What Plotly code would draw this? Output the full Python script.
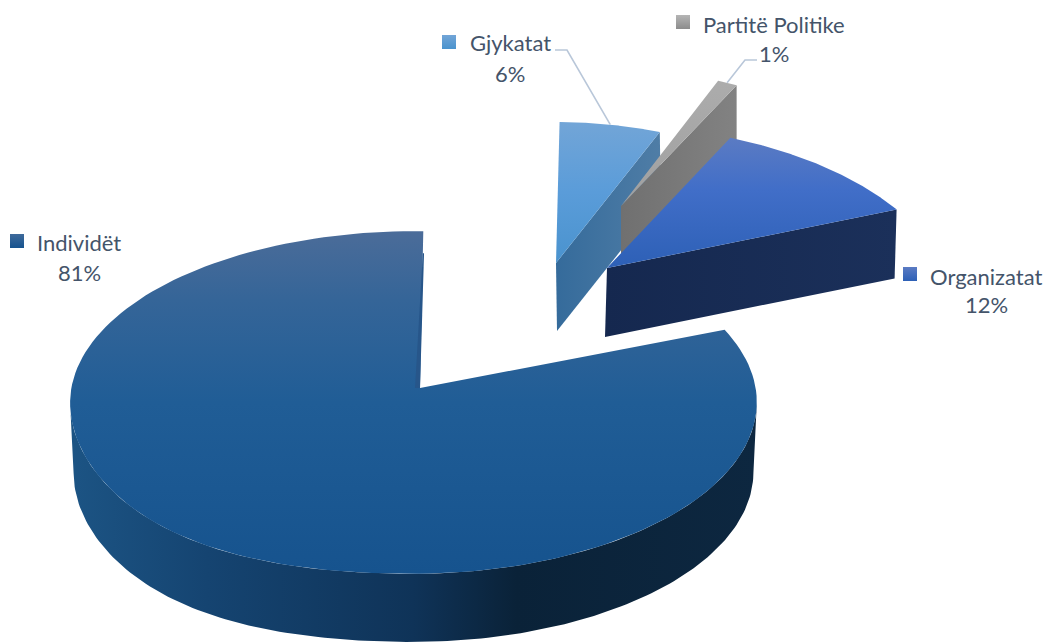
import numpy as np
import plotly.graph_objects as go

categories = ["Individët", "Gjykatat", "Partitë Politike", "Organizatat"]
values = [81.0, 5.9, 1.3, 11.8]
FIRST_ANGLE = 69.0

# projection of each exploded slice on the page
apex = [(420, 388), (556, 263), (621, 206), (607, 268)]
radius = [(342, 170), (279, 141), (259, 135), (338, 178)]
persp = [(0.0846, 0.019), (0, 0), (0, 0), (0.25, 0)]
depth = [70, 68, 60, 69]
drift = [0, 1, 0, -2]
sag = [28, 0, 0, 0]

top_scale = [
    [[0, "#4b6c99"], [0.2, "#356598"], [0.5, "#205d96"], [1, "#16538e"]],
    [[0, "#72a5d7"], [0.5, "#5a9cd9"], [1, "#4a93ce"]],
    [[0, "#acacac"], [1, "#a0a0a0"]],
    [[0, "#5b7bc3"], [0.4, "#416ec8"], [1, "#2d60b6"]],
]
side_scale = [
    [[0, "#1c5484"], [0.2, "#154471"], [0.5, "#0f3358"], [0.65, "#0a2238"], [1, "#0d2740"]],
    [[0, "#356b9b"], [1, "#4f7da6"]],
    [[0, "#707070"], [1, "#828282"]],
    [[0, "#15284f"], [1, "#1b305a"]],
]
key_colors = [("#3f6a9b", "#16538e"), ("#72a5d7", "#4a93ce"), ("#b5b5b5", "#8c8c8c"), ("#5b7bc3", "#2d60b6")]
key_pos = [(17, 241), (449, 42), (683, 22), (910, 274)]
name_pos = [(79, 242), (510, 42), (774, 24), (986, 276)]
pct_pos = [(79, 272), (510, 73), (774, 53), (986, 304)]
TEXT = "#44546a"
LEADER = "#b9c7d9"
FONT = "Lato"
SIZE = 22


def rim(i, deg):
    t = np.radians(np.asarray(deg, dtype=float))
    k, m = persp[i]
    s, c = np.sin(t), np.cos(t)
    w = 1 + k * c + m * s
    bulge = sag[i] * (np.clip(-s, 0, None) * np.clip(-c, 0, None)) ** 2
    return apex[i][0] + radius[i][0] * s / w, apex[i][1] - radius[i][1] * c / w + bulge


def lowered(i, x, y, shrink=1.0, dx=0.0):
    x = np.asarray(x, dtype=float)
    y = np.asarray(y, dtype=float)
    return apex[i][0] + shrink * (x - apex[i][0]) + dx, apex[i][1] + shrink * (y - apex[i][1]) + depth[i]


def poly(fig, x, y, scale, orient):
    x, y = list(x), list(y)
    x.append(x[0])
    y.append(y[0])
    lo, hi = (min(x), max(x)) if orient == "horizontal" else (min(y), max(y))
    fig.add_trace(go.Scatter(
        x=x, y=y, mode="lines", fill="toself", line=dict(width=0), hoverinfo="skip",
        fillgradient=dict(type=orient, colorscale=scale, start=lo, stop=hi),
    ))


spans = [v / sum(values) * 360 for v in values]
starts = FIRST_ANGLE + np.concatenate([[0], np.cumsum(spans)[:-1]])
ends = starts + np.array(spans)

fig = go.Figure()
for i in [1, 2, 3, 0]:
    a0, a1 = starts[i], ends[i]
    if i == 0:
        sweep = np.linspace(0, 360, 721)
        xs, _ = rim(i, sweep)
        arc = np.linspace(sweep[np.argmax(xs)], sweep[np.argmin(xs)], 161)
        xr, yr = rim(i, arc)
        xl, yl = lowered(i, xr, yr, shrink=0.99)
        poly(fig, np.r_[xr, xl[::-1]], np.r_[yr, yl[::-1]], side_scale[i], "horizontal")
    else:
        xe, ye = rim(i, a1)
        xl, yl = lowered(i, [apex[i][0], xe], [apex[i][1], ye], dx=drift[i])
        poly(fig, [apex[i][0], xe, xl[1], xl[0]], [apex[i][1], ye, yl[1], yl[0]], side_scale[i], "horizontal")
    arc = np.linspace(a0, a1, 161)
    xr, yr = rim(i, arc)
    poly(fig, np.r_[apex[i][0], xr], np.r_[apex[i][1], yr], top_scale[i], "vertical")
    if i == 0:
        xe, ye = rim(i, a1)
        ax, ay = apex[i]
        fig.add_trace(go.Scatter(
            x=[ax, ax - 5, ax + 0.86 * (xe - ax), ax + 0.86 * (xe - ax) + 1.2, ax],
            y=[ay, ay, ay + 0.86 * (ye - ay), ay + 0.86 * (ye - ay), ay],
            mode="lines", fill="toself", line=dict(width=0), fillcolor="#27568a", hoverinfo="skip",
        ))

# leader lines run from the label to the middle of the slice's rim
for i, (sx, elbow) in {1: (555, 567), 2: (757, 745)}.items():
    xm, ym = rim(i, (starts[i] + ends[i]) / 2)
    sy = 50 if i == 1 else 60
    fig.add_trace(go.Scatter(x=[sx, elbow, xm], y=[sy, sy, ym], mode="lines",
                             line=dict(color=LEADER, width=1.6), hoverinfo="skip"))

for i, name in enumerate(categories):
    fig.add_trace(go.Scatter(
        x=[key_pos[i][0]], y=[key_pos[i][1]], mode="markers", hoverinfo="skip",
        marker=dict(symbol="square", size=14, color=key_colors[i][0], line=dict(width=0),
                    gradient=dict(type="vertical", color=key_colors[i][1])),
    ))
    fig.add_annotation(x=name_pos[i][0], y=name_pos[i][1], text=name, showarrow=False,
                       xanchor="center", yanchor="middle", font=dict(family=FONT, size=SIZE, color=TEXT))
    fig.add_annotation(x=pct_pos[i][0], y=pct_pos[i][1], text=f"{round(values[i])}%", showarrow=False,
                       xanchor="center", yanchor="middle", font=dict(family=FONT, size=SIZE, color=TEXT))

fig.update_layout(
    width=1046, height=644, margin=dict(l=0, r=0, t=0, b=0), showlegend=False,
    paper_bgcolor="white", plot_bgcolor="white",
    xaxis=dict(range=[0, 1046], visible=False, fixedrange=True),
    yaxis=dict(range=[644, 0], visible=False, fixedrange=True),
)
fig.write_html("out.html", config=dict(displayModeBar=False),
               post_script="document.body.style.margin='0';document.documentElement.style.overflow='hidden';")
